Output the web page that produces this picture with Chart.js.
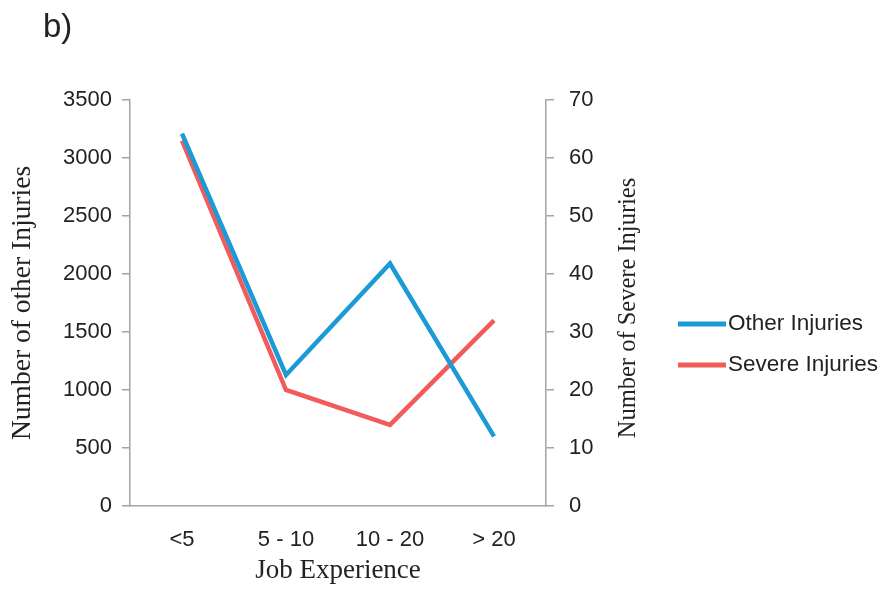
<!DOCTYPE html>
<html>
<head>
<meta charset="utf-8">
<script src="https://cdn.jsdelivr.net/npm/chart.js@4/dist/chart.umd.min.js"></script>
<style>
  html, body { margin: 0; padding: 0; background: #fff; }
  #wrap { width: 885px; height: 591px; }
</style>
</head>
<body>
<div id="wrap"><canvas id="chart"></canvas></div>
<script>
// Job experience vs number of injuries (panel b)
const categories = ["<5", "5 - 10", "10 - 20", "> 20"]
const otherInjuries = [3210, 1130, 2090, 600]
const severeInjuries = [63, 20, 14, 32]

const BLUE = "#1b9ad6"
const RED = "#f15b5b"
const AXIS = "#a3a3a3"
const TEXT = "#222"
const SANS = "'Liberation Sans', Arial, sans-serif"
const SERIF = "'Liberation Serif', 'Times New Roman', serif"

// panel label, right axis title (reads bottom-to-top) and legend
const extras = {
  id: "extras",
  afterDraw(chart) {
    const ctx = chart.ctx
    const area = chart.chartArea
    ctx.save()
    ctx.fillStyle = TEXT
    ctx.font = "33px " + SANS
    ctx.textBaseline = "alphabetic"
    ctx.textAlign = "left"
    ctx.fillText("b)", 43, 37)

    ctx.translate(629, 308)
    ctx.rotate(-Math.PI / 2)
    ctx.font = "24.5px " + SERIF
    ctx.textAlign = "center"
    ctx.textBaseline = "middle"
    ctx.fillText("Number of Severe Injuries", 0, 0)
    ctx.restore()

    ctx.save()
    ctx.font = "22.5px " + SANS
    ctx.textBaseline = "middle"
    ctx.textAlign = "left"
    chart.data.datasets.forEach((ds, i) => {
      const y = 324 + i * 41
      ctx.strokeStyle = ds.borderColor
      ctx.lineWidth = 5
      ctx.beginPath()
      ctx.moveTo(678, y)
      ctx.lineTo(726, y)
      ctx.stroke()
      ctx.fillStyle = TEXT
      ctx.fillText(ds.label, 728, y)
    })
    ctx.restore()
  }
}

new Chart(document.getElementById("chart"), {
  type: "line",
  data: {
    labels: categories,
    datasets: [
      {
        label: "Other Injuries",
        data: otherInjuries,
        yAxisID: "y",
        borderColor: BLUE,
        backgroundColor: BLUE,
        borderWidth: 4.5,
        pointRadius: 0,
        tension: 0
      },
      {
        label: "Severe Injuries",
        data: severeInjuries,
        yAxisID: "y1",
        borderColor: RED,
        backgroundColor: RED,
        borderWidth: 4.5,
        pointRadius: 0,
        tension: 0
      }
    ]
  },
  options: {
    responsive: true,
    maintainAspectRatio: false,
    animation: false,
    layout: {
      padding: { top: 100, left: 0, right: 239, bottom: 0 }
    },
    plugins: {
      legend: { display: false },
      tooltip: { enabled: false }
    },
    scales: {
      x: {
        offset: true,
        afterFit(scale) { scale.height = 85 },
        grid: { display: false, drawTicks: false },
        border: { display: true, color: AXIS, width: 1.5 },
        ticks: { color: TEXT, font: { family: SANS, size: 22 }, padding: 21 },
        title: {
          display: true,
          text: "Job Experience",
          color: TEXT,
          font: { family: SERIF, size: 27 },
          padding: { top: 0, bottom: 4 }
        }
      },
      y: {
        position: "left",
        min: 0,
        max: 3500,
        afterFit(scale) { scale.width = 130 },
        grid: { drawOnChartArea: false, color: AXIS, lineWidth: 1.5, tickLength: 8 },
        border: { display: true, color: AXIS, width: 1.5 },
        ticks: {
          stepSize: 500,
          color: TEXT,
          font: { family: SANS, size: 22 },
          padding: 10,
          callback: v => String(v)
        },
        title: {
          display: true,
          text: "Number of other Injuries",
          color: TEXT,
          font: { family: SERIF, size: 27.5 },
          padding: { top: 6, bottom: 0 }
        }
      },
      y1: {
        position: "right",
        min: 0,
        max: 70,
        afterFit(scale) { scale.width = 100 },
        grid: { drawOnChartArea: false, color: AXIS, lineWidth: 1.5, tickLength: 8 },
        border: { display: true, color: AXIS, width: 1.5 },
        ticks: { stepSize: 10, color: TEXT, font: { family: SANS, size: 22 }, padding: 15 }
      }
    }
  },
  plugins: [extras]
})
</script>
</body>
</html>
